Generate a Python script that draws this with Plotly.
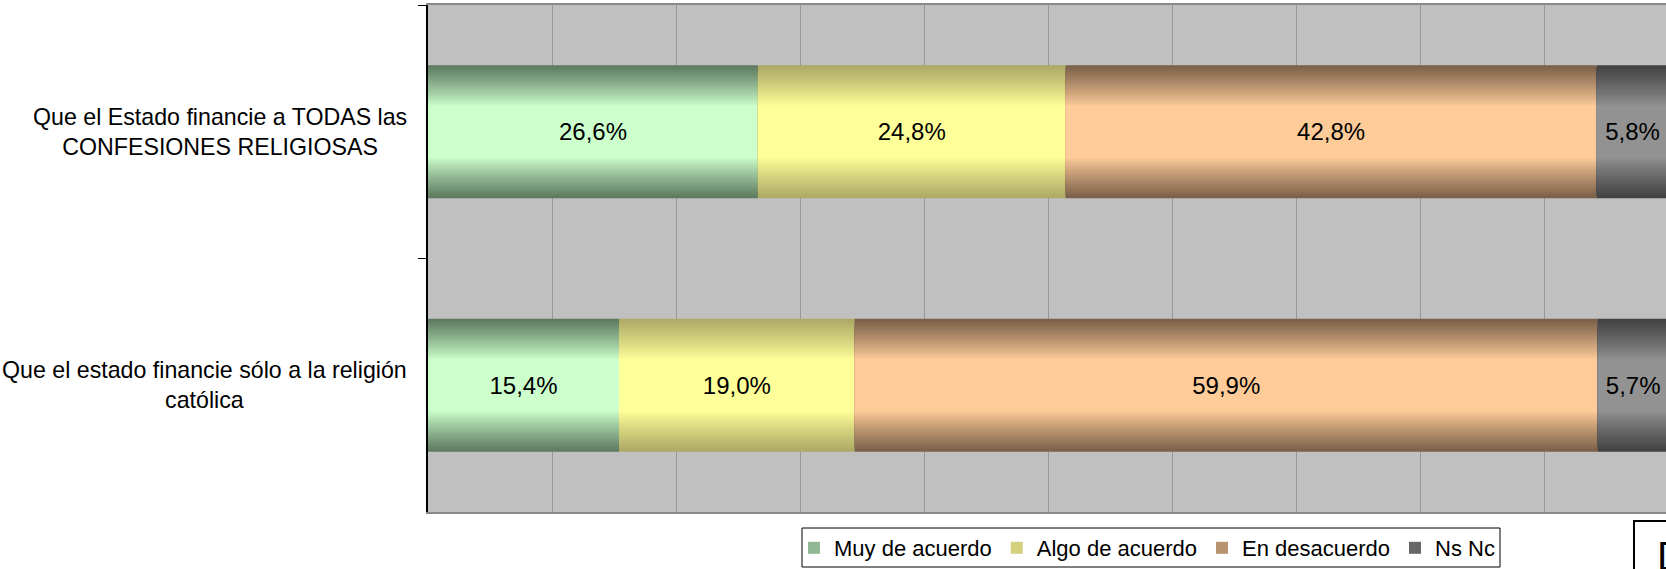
import plotly.graph_objects as go

# ---- data ----
categories = [
    "Que el Estado financie a TODAS las<br>CONFESIONES RELIGIOSAS",
    "Que el estado financie sólo a la religión<br>católica",
]
series_names = ["Muy de acuerdo", "Algo de acuerdo", "En desacuerdo", "Ns Nc"]
muy_de_acuerdo = [26.6, 15.4]
algo_de_acuerdo = [24.8, 19.0]
en_desacuerdo = [42.8, 59.9]
ns_nc = [5.8, 5.7]
series_values = [muy_de_acuerdo, algo_de_acuerdo, en_desacuerdo, ns_nc]

# ---- style ----
FONT = "Liberation Sans, Arial, sans-serif"
light_cols = [(204, 255, 204), (255, 255, 153), (255, 204, 153), (146, 146, 146)]
dark_cols = [(94, 122, 96), (173, 170, 102), (123, 97, 74), (66, 66, 66)]
BAR_W = 0.525
N_LAYERS = 22
T_LIGHT = 0.4

# plot area in pixels (for converting paper coordinates)
L, R, T, B, W, H = 428, 0, 5, 57, 1666, 569
PW, PH = W - L - R, H - T - B


def px_x(px):
    return (px - L) / PW


def px_y(py):
    return (H - B - py) / PH


def blend(d, l, f):
    return "rgb(%d,%d,%d)" % tuple(round(l[i] + (d[i] - l[i]) * f) for i in range(3))


fig = go.Figure()

n_cat = len(categories)
bases = [[0.0] * n_cat]
for vals in series_values[:-1]:
    bases.append([bases[-1][i] + vals[i] for i in range(n_cat)])

for s, (name, vals) in enumerate(zip(series_names, series_values)):
    base = bases[s]
    for k in range(N_LAYERS + 1):
        t = 1.0 - (1.0 - T_LIGHT) * k / N_LAYERS
        f = max(0.0, min(1.0, (t - T_LIGHT) / (1.0 - T_LIGHT))) ** 0.9
        col = blend(dark_cols[s], light_cols[s], f)
        show = (k == N_LAYERS // 2)
        fig.add_trace(go.Bar(
            y=categories, x=vals, base=base, orientation="h",
            width=BAR_W * t,
            marker=dict(color=col, line=dict(width=0)),
            name=name, showlegend=show, legendrank=s + 1,
            hoverinfo="skip",
        ))
    # labels on top
    fig.add_trace(go.Bar(
        y=categories, x=vals, base=base, orientation="h",
        width=BAR_W,
        marker=dict(color="rgba(0,0,0,0)", line=dict(width=0)),
        text=[("%.1f%%" % v).replace(".", ",") for v in vals],
        textposition="inside", insidetextanchor="middle",
        constraintext="none", textangle=0,
        textfont=dict(family=FONT, size=24, color="black"),
        showlegend=False, hoverinfo="skip",
    ))

for c in categories:
    fig.add_annotation(
        x=0, xref="paper", y=c, yref="y",
        text=c, showarrow=False, xanchor="right", yanchor="middle",
        xshift=-19, align="center",
        font=dict(family=FONT, size=23.2, color="black"),
    )

# legend frame
fig.add_shape(type="rect", xref="paper", yref="paper",
              x0=px_x(802), x1=px_x(1500), y0=px_y(528), y1=px_y(567),
              line=dict(color="black", width=1), fillcolor="white", layer="above")

# partially visible boxed element at bottom right
fig.add_shape(type="rect", xref="paper", yref="paper",
              x0=px_x(1634), x1=px_x(1720), y0=px_y(521), y1=px_y(640),
              line=dict(color="black", width=2), fillcolor="white", layer="above")
fig.add_annotation(x=px_x(1655), xref="paper", y=px_y(556), yref="paper",
                   text="D", showarrow=False, xanchor="left", yanchor="middle",
                   font=dict(family=FONT, size=40, color="black"))

fig.update_layout(
    width=W, height=H,
    margin=dict(l=L, r=R, t=T, b=B),
    paper_bgcolor="white", plot_bgcolor="#C0C0C0",
    barmode="overlay",
    font=dict(family=FONT, size=22, color="black"),
    showlegend=True,
    legend=dict(
        orientation="h", x=px_x(1147), xanchor="center", y=px_y(548), yanchor="middle",
        borderwidth=0, bgcolor="rgba(0,0,0,0)",
        font=dict(family=FONT, size=22, color="black"),
        traceorder="normal",
    ),
    xaxis=dict(
        range=[0, 99.8], dtick=10, showticklabels=False, ticks="",
        showgrid=True, gridcolor="#979797", gridwidth=1, zeroline=False,
        showline=True, linecolor="#8a8a8a", linewidth=2, mirror=True,
        fixedrange=True,
    ),
    yaxis=dict(
        categoryorder="array", categoryarray=categories, autorange="reversed",
        showticklabels=False, ticks="outside", ticklen=8, tickwidth=1,
        tickcolor="black", tickson="boundaries", showgrid=False,
        showline=True, linecolor="black", linewidth=1.5, zeroline=False,
        fixedrange=True,
    ),
)

fig.write_html("out.html", config={"displayModeBar": False},
               post_script="document.body.style.margin='0';document.body.style.overflow='hidden';")
